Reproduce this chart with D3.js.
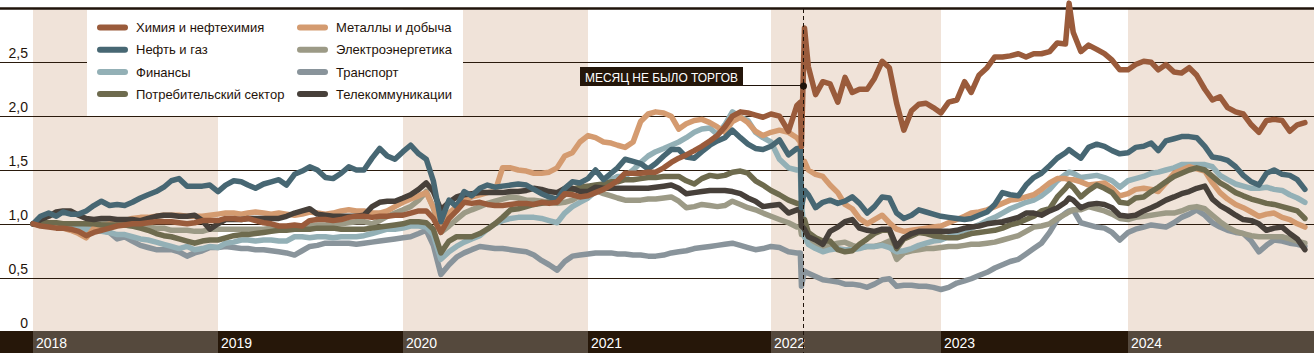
<!DOCTYPE html>
<html><head><meta charset="utf-8">
<script src="https://cdn.jsdelivr.net/npm/d3@7"></script>
<style>
body{margin:0;background:#fff}
svg{display:block}
text{font-family:"Liberation Sans",Arial,sans-serif}
</style>
</head><body>
<svg id="chart" width="1314" height="356"></svg>
<script>
// ---------- DATA (index, 1 = start of 2018) ----------
const dates = [
"2018-01-01","2018-01-16","2018-02-01","2018-02-16","2018-03-01","2018-03-16","2018-04-01","2018-04-16","2018-05-01","2018-05-16","2018-06-01","2018-06-16",
"2018-07-01","2018-07-16","2018-08-01","2018-08-16","2018-09-01","2018-09-16","2018-10-01","2018-10-16","2018-11-01","2018-11-16","2018-12-01","2018-12-16",
"2019-01-01","2019-01-16","2019-02-01","2019-02-16","2019-03-01","2019-03-16","2019-04-01","2019-04-16","2019-05-01","2019-05-16","2019-06-01","2019-06-16",
"2019-07-01","2019-07-16","2019-08-01","2019-08-16","2019-09-01","2019-09-16","2019-10-01","2019-10-16","2019-11-01","2019-11-16","2019-12-01","2019-12-16",
"2020-01-01","2020-01-16","2020-02-01","2020-02-16","2020-03-01","2020-03-16","2020-04-01","2020-04-16","2020-05-01","2020-05-16","2020-06-01","2020-06-16",
"2020-07-01","2020-07-16","2020-08-01","2020-08-16","2020-09-01","2020-09-16","2020-10-01","2020-10-16","2020-11-01","2020-11-16","2020-12-01","2020-12-16",
"2021-01-01","2021-01-16","2021-02-01","2021-02-16","2021-03-01","2021-03-16","2021-04-01","2021-04-16","2021-05-01","2021-05-16","2021-06-01","2021-06-16",
"2021-07-01","2021-07-16","2021-08-01","2021-08-16","2021-09-01","2021-09-16","2021-10-01","2021-10-16","2021-11-01","2021-11-16","2021-12-01","2021-12-16",
"2022-01-01","2022-01-16","2022-02-01","2022-02-16","2022-02-22","2022-02-24","2022-03-24","2022-04-01","2022-04-16","2022-05-01","2022-05-16","2022-06-01","2022-06-16",
"2022-07-01","2022-07-16","2022-08-01","2022-08-16","2022-09-01","2022-09-16","2022-10-01","2022-10-16","2022-11-01","2022-11-16","2022-12-01","2022-12-16",
"2023-01-01","2023-01-16","2023-02-01","2023-02-16","2023-03-01","2023-03-16","2023-04-01","2023-04-16","2023-05-01","2023-05-16","2023-06-01","2023-06-16",
"2023-07-01","2023-07-16","2023-08-01","2023-08-16","2023-09-01","2023-09-08","2023-09-16","2023-10-01","2023-10-16","2023-11-01","2023-11-16","2023-12-01","2023-12-16",
"2024-01-01","2024-01-16","2024-02-01","2024-02-16","2024-03-01","2024-03-16","2024-04-01","2024-04-16","2024-05-01","2024-05-16","2024-06-01","2024-06-16",
"2024-07-01","2024-07-16","2024-08-01","2024-08-16","2024-09-01","2024-09-16","2024-10-01","2024-10-16","2024-11-01","2024-11-16","2024-12-01","2024-12-16"
];

const chemistry = [
1.00,0.98,0.97,0.96,0.96,0.95,0.93,0.89,0.92,0.94,0.96,0.98,0.99,1.00,1.00,1.01,1.02,1.02,1.02,1.01,1.00,1.01,1.03,1.03,
1.03,1.05,1.05,1.04,1.05,1.03,1.01,1.00,0.98,0.98,0.99,0.98,1.03,1.04,1.04,1.03,1.04,1.06,1.07,1.07,1.06,1.07,1.07,1.08,
1.08,1.10,1.12,1.12,1.05,0.92,1.05,1.12,1.20,1.19,1.20,1.18,1.17,1.17,1.18,1.19,1.19,1.18,1.20,1.19,1.20,1.28,1.27,1.25,
1.26,1.29,1.32,1.36,1.40,1.47,1.47,1.47,1.48,1.48,1.52,1.57,1.61,1.64,1.68,1.72,1.77,1.82,1.90,2.00,2.04,2.03,2.01,1.99,
2.02,2.00,1.86,2.10,2.13,1.72,2.82,2.46,2.20,2.32,2.30,2.13,2.36,2.22,2.25,2.25,2.35,2.51,2.45,2.12,1.87,2.05,2.11,2.12,2.08,
2.03,2.13,2.15,2.32,2.22,2.38,2.45,2.55,2.55,2.56,2.58,2.55,2.58,2.58,2.60,2.68,2.67,3.05,2.78,2.60,2.66,2.62,2.58,2.52,2.43,
2.43,2.48,2.51,2.50,2.43,2.48,2.41,2.40,2.45,2.38,2.25,2.15,2.18,2.08,2.04,2.02,1.92,1.85,1.96,1.97,1.96,1.86,1.92,1.94
];
const oilGas = [
1.00,1.07,1.10,1.07,1.11,1.09,1.09,1.12,1.17,1.21,1.17,1.18,1.17,1.20,1.24,1.27,1.30,1.34,1.40,1.42,1.35,1.35,1.35,1.36,
1.30,1.36,1.40,1.39,1.36,1.33,1.37,1.39,1.41,1.36,1.46,1.49,1.53,1.50,1.43,1.42,1.47,1.53,1.50,1.50,1.61,1.70,1.63,1.60,
1.67,1.73,1.65,1.60,1.40,1.02,1.22,1.16,1.30,1.26,1.33,1.36,1.34,1.35,1.36,1.37,1.36,1.32,1.28,1.25,1.23,1.33,1.39,1.38,
1.42,1.50,1.41,1.47,1.52,1.60,1.58,1.56,1.51,1.56,1.63,1.69,1.69,1.62,1.61,1.67,1.73,1.77,1.80,1.87,1.80,1.74,1.70,1.69,
1.72,1.78,1.64,1.70,1.70,1.15,1.31,1.27,1.15,1.20,1.22,1.19,1.21,1.25,1.19,1.10,1.16,1.25,1.24,1.10,1.05,1.08,1.13,1.11,1.09,
1.07,1.06,1.05,1.04,1.05,1.08,1.11,1.18,1.29,1.27,1.26,1.36,1.43,1.47,1.54,1.61,1.66,1.69,1.66,1.61,1.71,1.74,1.72,1.68,1.65,
1.66,1.71,1.72,1.75,1.68,1.77,1.79,1.81,1.81,1.80,1.72,1.62,1.61,1.59,1.53,1.45,1.39,1.36,1.47,1.50,1.46,1.45,1.41,1.32
];
const finance = [
1.00,0.99,0.99,0.98,0.98,0.97,0.96,0.95,0.94,0.93,0.92,0.90,0.90,0.88,0.86,0.85,0.83,0.81,0.79,0.77,0.79,0.76,0.77,0.79,
0.78,0.82,0.83,0.85,0.85,0.84,0.85,0.85,0.84,0.84,0.88,0.88,0.87,0.88,0.88,0.87,0.88,0.88,0.88,0.89,0.91,0.93,0.95,0.95,
0.96,0.98,0.98,0.97,0.90,0.67,0.74,0.79,0.83,0.86,0.89,0.95,1.00,1.03,1.05,1.06,1.06,1.06,1.05,1.03,1.01,1.10,1.16,1.20,
1.24,1.30,1.35,1.41,1.44,1.44,1.50,1.57,1.63,1.67,1.70,1.73,1.76,1.80,1.85,1.88,1.89,1.83,1.92,2.04,1.99,1.96,1.85,1.80,
1.76,1.60,1.52,1.50,1.50,1.20,0.88,0.81,0.77,0.74,0.76,0.77,0.76,0.76,0.77,0.79,0.79,0.80,0.78,0.74,0.75,0.77,0.80,0.82,0.84,
0.85,0.88,0.92,0.94,0.96,0.99,1.03,1.06,1.10,1.14,1.17,1.20,1.22,1.26,1.32,1.40,1.46,1.48,1.47,1.43,1.44,1.45,1.43,1.40,1.34,
1.40,1.42,1.44,1.47,1.48,1.50,1.52,1.55,1.55,1.55,1.55,1.53,1.45,1.41,1.37,1.35,1.33,1.33,1.34,1.32,1.31,1.27,1.24,1.20
];
const consumer = [
1.00,1.01,1.01,1.01,1.00,1.00,1.00,1.00,1.00,0.99,0.99,0.99,0.99,0.98,0.96,0.94,0.91,0.89,0.88,0.86,0.84,0.82,0.84,0.85,
0.85,0.87,0.89,0.90,0.90,0.91,0.92,0.93,0.94,0.94,0.95,0.95,0.95,0.96,0.96,0.96,0.95,0.95,0.95,0.95,0.96,0.97,0.98,0.99,
1.00,1.02,1.02,1.01,0.95,0.73,0.84,0.88,0.88,0.88,0.91,0.95,1.00,1.06,1.13,1.14,1.16,1.18,1.19,1.20,1.22,1.27,1.32,1.34,
1.35,1.36,1.37,1.39,1.39,1.41,1.41,1.42,1.43,1.43,1.44,1.44,1.44,1.40,1.37,1.42,1.45,1.44,1.45,1.48,1.49,1.47,1.40,1.36,
1.31,1.27,1.22,1.19,1.19,0.98,1.04,0.92,0.87,0.84,0.84,0.76,0.74,0.75,0.81,0.86,0.91,0.94,0.94,0.77,0.86,0.89,0.92,0.91,0.89,
0.88,0.87,0.87,0.89,0.91,0.92,0.93,0.94,0.96,0.99,1.01,1.04,1.07,1.12,1.14,1.25,1.33,1.37,1.34,1.25,1.31,1.36,1.33,1.29,1.20,
1.19,1.24,1.25,1.30,1.34,1.39,1.44,1.47,1.50,1.52,1.50,1.44,1.38,1.34,1.29,1.26,1.23,1.21,1.19,1.18,1.16,1.14,1.12,1.05
];
const metals = [
1.00,0.99,0.99,0.97,0.96,0.94,0.91,0.87,0.96,0.98,1.00,1.02,1.03,1.05,1.06,1.06,1.07,1.08,1.08,1.08,1.07,1.07,1.07,1.08,
1.09,1.10,1.10,1.09,1.10,1.11,1.10,1.09,1.10,1.09,1.08,1.09,1.11,1.10,1.09,1.10,1.12,1.13,1.12,1.12,1.10,1.10,1.12,1.16,
1.20,1.23,1.26,1.29,1.15,0.98,1.10,1.16,1.22,1.25,1.27,1.29,1.30,1.52,1.52,1.50,1.49,1.47,1.47,1.48,1.52,1.63,1.66,1.76,
1.82,1.80,1.76,1.75,1.73,1.71,1.76,1.95,2.02,2.04,2.03,2.00,1.88,1.93,1.96,1.97,1.94,1.90,1.85,1.95,1.99,1.94,1.86,1.82,
1.85,1.87,1.85,1.80,1.76,1.50,1.58,1.50,1.46,1.44,1.36,1.29,1.18,1.14,1.05,1.00,1.04,1.08,1.01,0.95,0.93,0.94,0.95,0.96,0.97,
0.98,1.01,1.04,1.07,1.10,1.11,1.13,1.16,1.19,1.22,1.23,1.25,1.27,1.32,1.38,1.42,1.42,1.41,1.41,1.39,1.36,1.37,1.38,1.33,1.26,
1.28,1.32,1.33,1.32,1.30,1.38,1.47,1.50,1.53,1.51,1.49,1.38,1.29,1.23,1.18,1.15,1.11,1.07,1.09,1.10,1.06,1.04,1.00,0.97
];
const power = [
1.00,1.00,1.00,1.00,1.00,1.00,0.99,0.99,0.99,1.00,1.00,1.00,0.99,0.98,0.97,0.97,0.96,0.96,0.94,0.94,0.94,0.93,0.93,0.95,
0.95,0.95,0.95,0.95,0.95,0.95,0.95,0.96,0.96,0.96,0.97,0.97,0.98,0.99,0.99,1.00,1.00,1.01,1.02,1.02,1.00,1.03,1.07,1.10,
1.13,1.16,1.22,1.30,1.15,0.92,0.98,1.04,1.10,1.13,1.16,1.19,1.21,1.23,1.25,1.24,1.22,1.22,1.21,1.20,1.19,1.20,1.22,1.26,
1.29,1.31,1.28,1.26,1.24,1.22,1.22,1.22,1.23,1.23,1.24,1.25,1.21,1.15,1.16,1.18,1.17,1.16,1.17,1.21,1.18,1.15,1.13,1.10,
1.07,1.04,1.01,0.97,0.97,0.90,0.94,0.84,0.80,0.78,0.80,0.82,0.83,0.80,0.78,0.79,0.79,0.81,0.84,0.67,0.73,0.75,0.76,0.77,0.77,
0.78,0.79,0.79,0.80,0.81,0.81,0.82,0.83,0.85,0.87,0.89,0.93,0.97,0.98,1.00,1.05,1.09,1.11,1.13,1.13,1.16,1.14,1.12,1.09,1.05,
1.04,1.06,1.07,1.08,1.09,1.10,1.10,1.12,1.15,1.16,1.14,1.08,1.02,0.97,0.93,0.91,0.89,0.88,0.88,0.88,0.88,0.86,0.84,0.82
];
const transport = [
1.00,0.99,0.98,0.98,0.97,0.97,0.96,0.95,0.94,0.94,0.92,0.86,0.88,0.84,0.80,0.78,0.76,0.76,0.76,0.74,0.70,0.73,0.75,0.78,
0.78,0.79,0.78,0.77,0.77,0.76,0.76,0.75,0.74,0.73,0.71,0.75,0.79,0.80,0.82,0.82,0.82,0.82,0.81,0.82,0.83,0.84,0.85,0.86,
0.87,0.88,0.91,0.94,0.80,0.53,0.62,0.69,0.73,0.76,0.79,0.78,0.77,0.77,0.76,0.75,0.74,0.71,0.66,0.62,0.57,0.65,0.70,0.71,
0.72,0.73,0.73,0.73,0.72,0.72,0.71,0.71,0.70,0.70,0.71,0.73,0.74,0.75,0.77,0.78,0.79,0.80,0.81,0.82,0.80,0.78,0.76,0.77,
0.79,0.78,0.74,0.73,0.73,0.42,0.56,0.54,0.51,0.48,0.47,0.46,0.44,0.44,0.43,0.41,0.44,0.48,0.49,0.42,0.43,0.43,0.42,0.42,0.41,
0.39,0.41,0.45,0.47,0.49,0.52,0.55,0.59,0.62,0.65,0.67,0.72,0.77,0.82,0.92,1.04,1.10,1.12,1.13,1.01,0.99,0.97,0.96,0.92,0.85,
0.92,0.95,0.97,0.99,0.98,0.97,1.01,1.06,1.09,1.13,1.08,1.01,0.97,0.94,0.92,0.91,0.84,0.74,0.80,0.85,0.84,0.82,0.81,0.79
];
const telecom = [
1.00,1.04,1.07,1.11,1.12,1.12,1.08,1.05,1.04,1.05,1.05,1.04,1.04,1.04,1.03,1.05,1.07,1.08,1.08,1.07,1.07,1.08,1.03,0.95,
1.00,1.04,1.04,1.04,1.05,1.05,1.05,1.05,1.05,1.07,1.10,1.12,1.14,1.09,1.08,1.07,1.07,1.07,1.07,1.08,1.16,1.20,1.21,1.21,
1.24,1.27,1.32,1.38,1.30,1.13,1.20,1.25,1.27,1.28,1.29,1.29,1.29,1.29,1.30,1.30,1.31,1.33,1.32,1.30,1.29,1.33,1.33,1.30,
1.30,1.34,1.33,1.33,1.33,1.33,1.33,1.33,1.33,1.34,1.35,1.36,1.33,1.28,1.29,1.30,1.31,1.31,1.31,1.30,1.28,1.24,1.21,1.16,
1.17,1.18,1.10,1.13,1.13,0.98,0.95,0.88,0.85,0.81,0.93,0.97,1.02,1.04,0.96,0.94,0.93,0.95,0.95,0.79,0.87,0.91,0.93,0.93,0.93,
0.93,0.93,0.94,0.96,0.97,0.98,1.00,1.01,1.02,1.04,1.06,1.10,1.10,1.08,1.12,1.15,1.20,1.24,1.22,1.15,1.18,1.19,1.18,1.15,1.08,
1.07,1.08,1.12,1.15,1.18,1.22,1.25,1.28,1.30,1.33,1.35,1.23,1.17,1.13,1.08,1.04,1.03,1.00,0.94,0.96,0.97,0.91,0.86,0.76
];

const years = [2018,2019,2020,2021,2022,2023,2024];
const yTicks = [0,0.5,1,1.5,2,2.5];
const yTickLabels = ["0","0,5","1,0","1,5","2,0","2,5"];
const noTradeStart = "2022-02-25";
const noTradeEnd = "2022-03-23";
const annotationDate = "2022-03-10";
const annotationText = "МЕСЯЦ НЕ БЫЛО ТОРГОВ";

// ---------- SETUP ----------
const W = 1314;
const svg = d3.select("#chart");
const parse = d3.utcParse("%Y-%m-%d");
const colors = {
  "Химия и нефтехимия":"#9a5b3b",
  "Нефть и газ":"#476773",
  "Финансы":"#93b0b6",
  "Потребительский сектор":"#6e6b4e",
  "Металлы и добыча":"#d49b70",
  "Электроэнергетика":"#9c9a86",
  "Транспорт":"#89949b",
  "Телекоммуникации":"#47403a"
};
const valuesByName = {
  "Химия и нефтехимия":chemistry, "Нефть и газ":oilGas, "Финансы":finance,
  "Потребительский сектор":consumer, "Металлы и добыча":metals,
  "Электроэнергетика":power, "Транспорт":transport, "Телекоммуникации":telecom
};

const yearDate = y => parse(y + "-01-01");
// trading-time axis: the month without trading is collapsed
const x = d3.scaleUtc()
  .domain([yearDate(2018), yearDate(2019), yearDate(2020), yearDate(2021), yearDate(2022),
           parse(noTradeStart), parse(noTradeEnd), yearDate(2023), yearDate(2024), yearDate(2025)])
  .range([33, 218, 403, 588, 771, 802, 804, 941, 1128, 1313]);
const y = d3.scaleLinear().domain([0, 3]).range([331.5, 8.5]);

const barTop = 331, barH = 22;

// year bands
years.forEach((yr, i) => {
  const x0 = x(yearDate(yr)), x1 = (yr === 2024) ? W : x(yearDate(yr + 1));
  if (i % 2 === 0) {
    svg.append("rect").attr("x", x0).attr("y", 9).attr("width", x1 - x0)
      .attr("height", barTop - 9).attr("fill", "#f0e3d9");
  }
});

// gridlines
yTicks.filter(t => t > 0).forEach(t => {
  const yy = Math.round(y(t)) + 0.5;
  svg.append("line").attr("x1", 0).attr("x2", W).attr("y1", yy).attr("y2", yy)
    .attr("stroke", "#2a1a0c").attr("stroke-width", 1);
});
svg.append("line").attr("x1", 0).attr("x2", W).attr("y1", y(3)).attr("y2", y(3))
  .attr("stroke", "#1f130a").attr("stroke-width", 2.5);

// legend
const leg = svg.append("g");
leg.append("rect").attr("x", 87).attr("y", 10).attr("width", 376).attr("height", 106).attr("fill", "#fff");
const legendOrder = ["Химия и нефтехимия","Металлы и добыча","Нефть и газ","Электроэнергетика",
                     "Финансы","Транспорт","Потребительский сектор","Телекоммуникации"];
legendOrder.forEach((name, i) => {
  const col = i % 2, row = Math.floor(i / 2);
  const lx = col === 0 ? 100 : 300;
  const ly = 27.5 + row * 22.2;
  leg.append("line").attr("x1", lx).attr("x2", lx + 25).attr("y1", ly).attr("y2", ly)
    .attr("stroke", colors[name]).attr("stroke-width", 6).attr("stroke-linecap", "round");
  leg.append("text").attr("x", lx + 36).attr("y", ly + 4.6).attr("font-size", 13)
    .attr("fill", "#1f130a").text(name);
});

// y labels
yTicks.forEach((t, i) => {
  svg.append("text").attr("x", 28).attr("y", y(t) - 4).attr("text-anchor", "end")
    .attr("font-size", 14).attr("fill", "#1f130a").text(yTickLabels[i]);
});

// series
const line = d3.line().x(d => x(d.date)).y(d => y(d.v));
const drawOrder = ["Транспорт","Электроэнергетика","Финансы","Металлы и добыча",
                   "Потребительский сектор","Телекоммуникации","Нефть и газ","Химия и нефтехимия"];
drawOrder.forEach(name => {
  const data = dates.map((d, i) => ({date: parse(d), v: valuesByName[name][i]}));
  svg.append("path").datum(data).attr("d", line).attr("fill", "none")
    .attr("stroke", colors[name]).attr("stroke-width", 5.5)
    .attr("stroke-linejoin", "round").attr("stroke-linecap", "round");
});

// bottom year bar
svg.append("rect").attr("x", 0).attr("y", barTop).attr("width", W).attr("height", barH).attr("fill", "#261709");
years.forEach((yr, i) => {
  const x0 = x(yearDate(yr)), x1 = (yr === 2024) ? W : x(yearDate(yr + 1));
  if (i % 2 === 0) {
    svg.append("rect").attr("x", x0).attr("y", barTop).attr("width", x1 - x0)
      .attr("height", barH).attr("fill", "#55493d");
  }
  svg.append("text").attr("x", x0 + 3).attr("y", barTop + 16.5).attr("font-size", 14)
    .attr("fill", "#fff").text(yr);
});

// annotation
const gapX = Math.round(x(parse(annotationDate))) + 0.5;
svg.append("line").attr("x1", gapX).attr("x2", gapX).attr("y1", 9).attr("y2", barTop + barH)
  .attr("stroke", "#1f130a").attr("stroke-width", 1).attr("stroke-dasharray", "4,3");
const dotY = 86;
svg.append("line").attr("x1", 580).attr("x2", gapX).attr("y1", dotY - 0.5).attr("y2", dotY - 0.5)
  .attr("stroke", "#1f130a").attr("stroke-width", 1);
svg.append("rect").attr("x", 580).attr("y", 67).attr("width", 163).attr("height", 19).attr("fill", "#24160a");
svg.append("text").attr("x", 585).attr("y", 81.5).attr("font-size", 13).attr("fill", "#fff")
  .attr("textLength", 153).attr("lengthAdjust", "spacingAndGlyphs").text(annotationText);
svg.append("circle").attr("cx", gapX).attr("cy", dotY).attr("r", 3.5).attr("fill", "#1f130a");
</script>
</body></html>
